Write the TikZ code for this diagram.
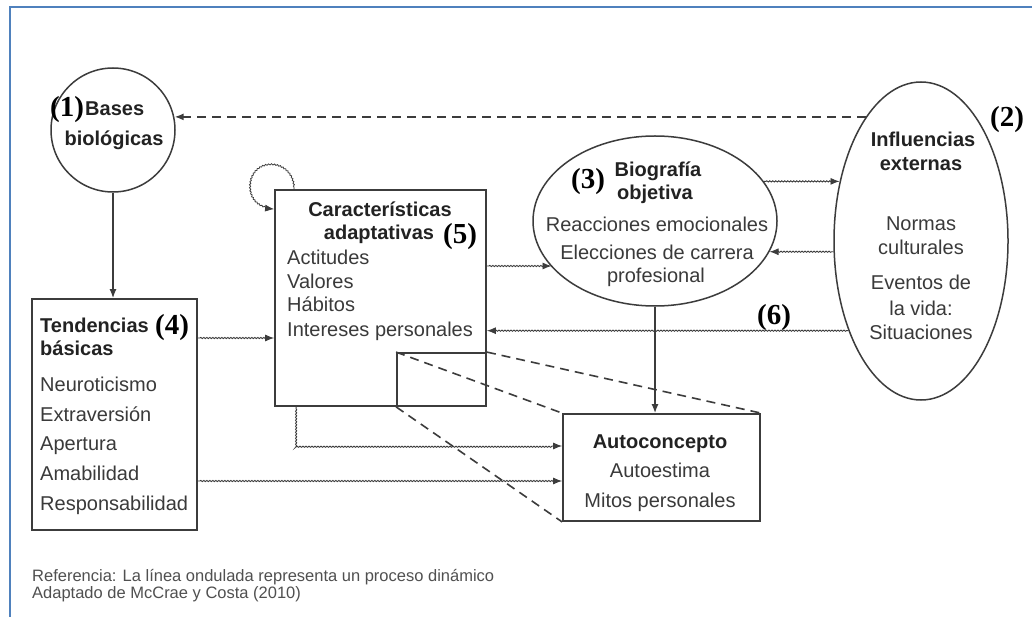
\documentclass[tikz,border=0pt]{standalone}
\usepackage{fontspec}
\setmainfont{Liberation Sans}
\newfontfamily\tnr{Liberation Serif}
\usetikzlibrary{shapes.geometric,arrows.meta,decorations.pathmorphing,calc}
\definecolor{lc}{HTML}{3C3C3C}
\definecolor{tc}{HTML}{3A3A3A}
\definecolor{hc}{HTML}{222222}
\definecolor{nc}{HTML}{505050}
\definecolor{frameblue}{HTML}{4F81BD}
\tikzset{
 solidline/.style={draw=lc, line width=1.4pt},
 box/.style={draw=lc, line width=1.8pt, inner sep=0},
 wavy/.style={draw=lc, line width=0.9pt, decorate, decoration={snake, amplitude=0.6pt, segment length=3pt, pre length=2pt, post length=7pt}},
 dashline/.style={draw=lc, line width=1.6pt, dash pattern=on 9pt off 6pt},
 tip/.style={-{Latex[length=9pt,width=7pt]}},
 body/.style={font=\fontsize{20}{24}\selectfont, text=tc, inner sep=0},
 head/.style={font=\fontsize{20}{24}\selectfont\bfseries, text=hc, inner sep=0},
 num/.style={font=\tnr\fontsize{29}{34}\selectfont\bfseries, text=black, inner sep=0},
 note/.style={font=\fontsize{16.5}{19}\selectfont, text=nc, inner sep=0},
}
\begin{document}
\begin{tikzpicture}[x=1pt,y=-1pt]
\useasboundingbox (0,0) rectangle (1032,617);
\fill[white] (0,0) rectangle (1032,617);
% blue frame
\draw[frameblue, line width=2.5pt] (10,617) -- (10,7) -- (1032,7);

% shapes
\node[draw=lc, line width=1.5pt, circle, minimum size=124pt, inner sep=0] (bases) at (113,130) {};
\node[box, minimum width=165pt, minimum height=231pt] (tend) at (114.5,414.5) {};
\node[box, minimum width=211pt, minimum height=216pt] (car) at (380.5,298) {};
\node[box, minimum width=89pt, minimum height=53pt] (inner) at (441.5,379.5) {};
\node[box, minimum width=197pt, minimum height=107pt] (auto) at (661.5,467.5) {};
\node[draw=lc, line width=1.5pt, ellipse, minimum width=244pt, minimum height=170pt, inner sep=0] (bio) at (655,221) {};
\node[draw=lc, line width=1.5pt, ellipse, minimum width=174pt, minimum height=318pt, inner sep=0] (inf) at (921,241) {};

% texts: Bases
\node[num, anchor=base west] (n1) at (50,117) {(1)};
\node[head, anchor=base west] (b1) at (85,116) {Bases};
\node[head, anchor=base] (b2) at (114,146) {biológicas};
% Tendencias
\node[head, anchor=base west] (t1) at (40,332) {Tendencias};
\node[num, anchor=base west] (n4) at (155,334) {(4)};
\node[head, anchor=base west] (t2) at (40,355) {básicas};
\node[body, anchor=base west] (t3) at (40,391) {Neuroticismo};
\node[body, anchor=base west] (t4) at (40,421) {Extraversión};
\node[body, anchor=base west] (t5) at (40,450) {Apertura};
\node[body, anchor=base west] (t6) at (40,480) {Amabilidad};
\node[body, anchor=base west] (t7) at (40,510) {Responsabilidad};
% Caracteristicas
\node[head, anchor=base] (c1t) at (380,217) {Características};
\node[head, anchor=base] (c2t) at (379,240) {adaptativas};
\node[num, anchor=base west] (n5) at (443,244) {(5)};
\node[body, anchor=base west] (c3t) at (287,265) {Actitudes};
\node[body, anchor=base west] (c4t) at (287,288) {Valores};
\node[body, anchor=base west] (c5t) at (287,312) {Hábitos};
\node[body, anchor=base west] (c6t) at (287,336) {Intereses personales};
% Biografia
\node[num, anchor=base west] (n3) at (571,189) {(3)};
\node[head, anchor=base] (bi1) at (658,177) {Biografía};
\node[head, anchor=base] (bi2) at (655,200) {objetiva};
\node[body, anchor=base] (bi3) at (657,232) {Reacciones emocionales};
\node[body, anchor=base] (bi4) at (657,260) {Elecciones de carrera};
\node[body, anchor=base] (bi5) at (656,283) {profesional};
% Influencias
\node[num, anchor=base west] (n2) at (990,127) {(2)};
\node[head, anchor=base] (i1) at (923,147) {Influencias};
\node[head, anchor=base] (i2) at (921,171) {externas};
\node[body, anchor=base] (i3) at (921,231) {Normas};
\node[body, anchor=base] (i4) at (921,255) {culturales};
\node[body, anchor=base] (i5) at (921,290) {Eventos de};
\node[body, anchor=base] (i6) at (921,315) {la vida:};
\node[body, anchor=base] (i7) at (921,339) {Situaciones};
% (6)
\node[num, anchor=base west] (n6) at (757,324) {(6)};
% Autoconcepto
\node[head, anchor=base] (a1t) at (660,448) {Autoconcepto};
\node[body, anchor=base] (a2t) at (660,477) {Autoestima};
\node[body, anchor=base] (a3t) at (660,507) {Mitos personales};
% footnote
\node[note, anchor=base west] (f1) at (32,581) {Referencia: La línea ondulada representa un proceso dinámico};
\node[note, anchor=base west] (f2) at (32,598) {Adaptado de McCrae y Costa (2010)};

% connectors
\draw[dashline, tip] (inf.114) -- (inf.114 -| bases.11);
\draw[solidline, tip] (bases.south) -- (bases.south |- tend.north);

\coordinate (tA) at ([yshift=76.5pt]tend.east);
\draw[wavy, tip] (tA) -- (tA -| car.west);
\coordinate (tB) at ([yshift=-66.5pt]tend.east);
\draw[wavy, tip] (tB) -- (tB -| auto.west);

\coordinate (cA) at ([yshift=32pt]car.east);
\draw[wavy, tip] (cA) -- (cA -| bio.204);
\draw[wavy, tip] (bio.20) -- (bio.20 -| inf.144);
\draw[wavy, tip] (inf.187) -- (inf.187 -| bio.345);
\draw[wavy, tip] (inf.231) -- (inf.231 -| car.east);

\coordinate (cB) at ([xshift=22pt]car.south west);
\coordinate (aA) at ([yshift=21.5pt]auto.west);
\draw[wavy, tip] (cB) |- (aA);

\draw[solidline, tip] (bio.south) -- (bio.south |- auto.north);

\draw[dashline] (inner.north west) -- (auto.north west);
\draw[dashline] (inner.north east) -- (auto.north east);
\draw[dashline] (inner.south west) -- (auto.south west);

% self loop
\coordinate (l0) at ([xshift=20pt]car.north west);
\coordinate (l3) at ([yshift=-20pt]car.north west);
\draw[wavy, tip, line width=0.8pt] (l0) .. controls ($(l0)+(0,-14)$) and ($(l0)+(-10,-24)$) .. ($(l0)+(-23,-24)$) .. controls ($(l0)+(-36,-24)$) and ($(l0)+(-44,-14)$) .. ($(l0)+(-44,-2)$) .. controls ($(l0)+(-44,12)$) and ($(l3)+(-14,0)$) .. (l3);
\end{tikzpicture}
\end{document}
